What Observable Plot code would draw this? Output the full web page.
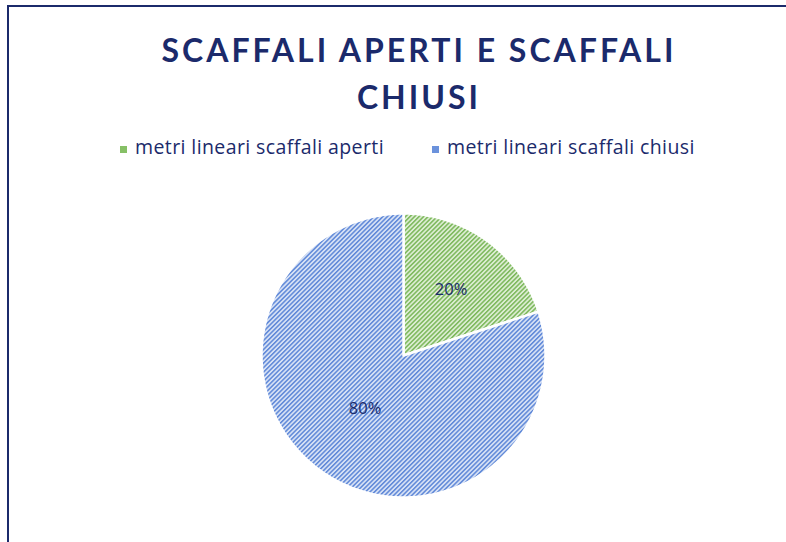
<!DOCTYPE html>
<html>
<head>
<meta charset="utf-8">
<script src="https://cdn.jsdelivr.net/npm/d3@7"></script>
<script src="https://cdn.jsdelivr.net/npm/@observablehq/plot@0.6"></script>
<style>
  html, body { margin: 0; padding: 0; background: #fff; }
  #wrap { position: relative; width: 786px; height: 542px; overflow: hidden; background: #fff; }
  #frame { position: absolute; left: 7px; top: 5px; width: 900px; height: 700px;
           border-left: 2px solid #1b2a6b; border-top: 2px solid #1b2a6b; box-sizing: border-box; }
  #title { position: absolute; left: 0; top: 26px; width: 838px; text-align: center;
           font-family: Lato, "Open Sans", sans-serif; font-weight: 700; font-size: 32px;
           line-height: 47px; letter-spacing: 3px; color: #1b2a6b; }
  .leg { position: absolute; top: 135px; font-family: "Open Sans", sans-serif; font-size: 19.5px;
         letter-spacing: 0.4px; color: #1b2a6b; line-height: 24px; white-space: nowrap; }
  .sw { position: absolute; width: 7px; height: 7px; top: 11px; }
  #plot { position: absolute; left: 0; top: 0; }
</style>
</head>
<body>
<div id="wrap">
  <div id="plot"></div>
  <div id="frame"></div>
  <div id="title">SCAFFALI APERTI E SCAFFALI<br>CHIUSI</div>
  <div id="legend"></div>
</div>
<script>
// ---- data ----
const categories = ["metri lineari scaffali aperti", "metri lineari scaffali chiusi"];
const values = [20, 80];
const labels = ["20%", "80%"];

// ---- styles ----
const navy = "#1b2a6b";
const patternIds = ["hatchGreen", "hatchBlue"];
const swatchColors = ["#86c066", "#6b92dc"];
const labelRadius = [0.57, 0.46];

// legend
const legend = document.getElementById("legend");
const legX = [120, 432];
categories.forEach((c, i) => {
  const d = document.createElement("div");
  d.className = "leg";
  d.style.left = legX[i] + "px";
  d.innerHTML = `<span class="sw" style="left:0;background:${swatchColors[i]}"></span><span style="margin-left:15px">${c}</span>`;
  legend.appendChild(d);
});

// build slice polygons from the values
const total = d3.sum(values);
let acc = 0;
const polys = [];
const labelPts = [];
values.forEach((v, i) => {
  const a0 = acc / total * 2 * Math.PI;
  acc += v;
  const a1 = acc / total * 2 * Math.PI;
  polys.push({cat: categories[i], x: 0, y: 0});
  const n = Math.max(2, Math.ceil((a1 - a0) / (Math.PI / 180)));
  for (let k = 0; k <= n; k++) {
    const a = a0 + (a1 - a0) * k / n;
    polys.push({cat: categories[i], x: Math.sin(a), y: Math.cos(a)});
  }
  const am = (a0 + a1) / 2;
  labelPts.push({label: labels[i], x: labelRadius[i] * Math.sin(am), y: labelRadius[i] * Math.cos(am)});
});

const chart = Plot.plot({
  width: 786,
  height: 542,
  margin: 0,
  x: {domain: [-1, 1], range: [261, 545], axis: null},
  y: {domain: [-1, 1], range: [497, 213], axis: null},
  color: {domain: categories, range: patternIds.map(id => `url(#${id})`)},
  marks: [
    Plot.line(polys, {x: "x", y: "y", z: "cat", fill: "cat", stroke: "white", strokeWidth: 2.5, curve: "linear-closed", strokeLinejoin: "round"}),
    Plot.text(labelPts, {x: "x", y: "y", text: "label", fill: navy, fontSize: 16.5, fontFamily: "'Open Sans', sans-serif"})
  ]
});

// hatch patterns
const ns = "http://www.w3.org/2000/svg";
const defs = document.createElementNS(ns, "defs");
const pats = [
  {id: "hatchGreen", bg: "#dcedd2", fg: "#7cb85b"},
  {id: "hatchBlue", bg: "#d6e1f5", fg: "#5f88d8"}
];
pats.forEach(p => {
  const pat = document.createElementNS(ns, "pattern");
  pat.setAttribute("id", p.id);
  pat.setAttribute("patternUnits", "userSpaceOnUse");
  pat.setAttribute("width", 3.2);
  pat.setAttribute("height", 3.2);
  pat.setAttribute("patternTransform", "rotate(45)");
  const r1 = document.createElementNS(ns, "rect");
  r1.setAttribute("width", 3.2); r1.setAttribute("height", 3.2); r1.setAttribute("fill", p.bg);
  const r2 = document.createElementNS(ns, "rect");
  r2.setAttribute("width", 1.5); r2.setAttribute("height", 3.2); r2.setAttribute("fill", p.fg);
  pat.appendChild(r1); pat.appendChild(r2);
  defs.appendChild(pat);
});
chart.insertBefore(defs, chart.firstChild);
document.getElementById("plot").appendChild(chart);
</script>
</body>
</html>
